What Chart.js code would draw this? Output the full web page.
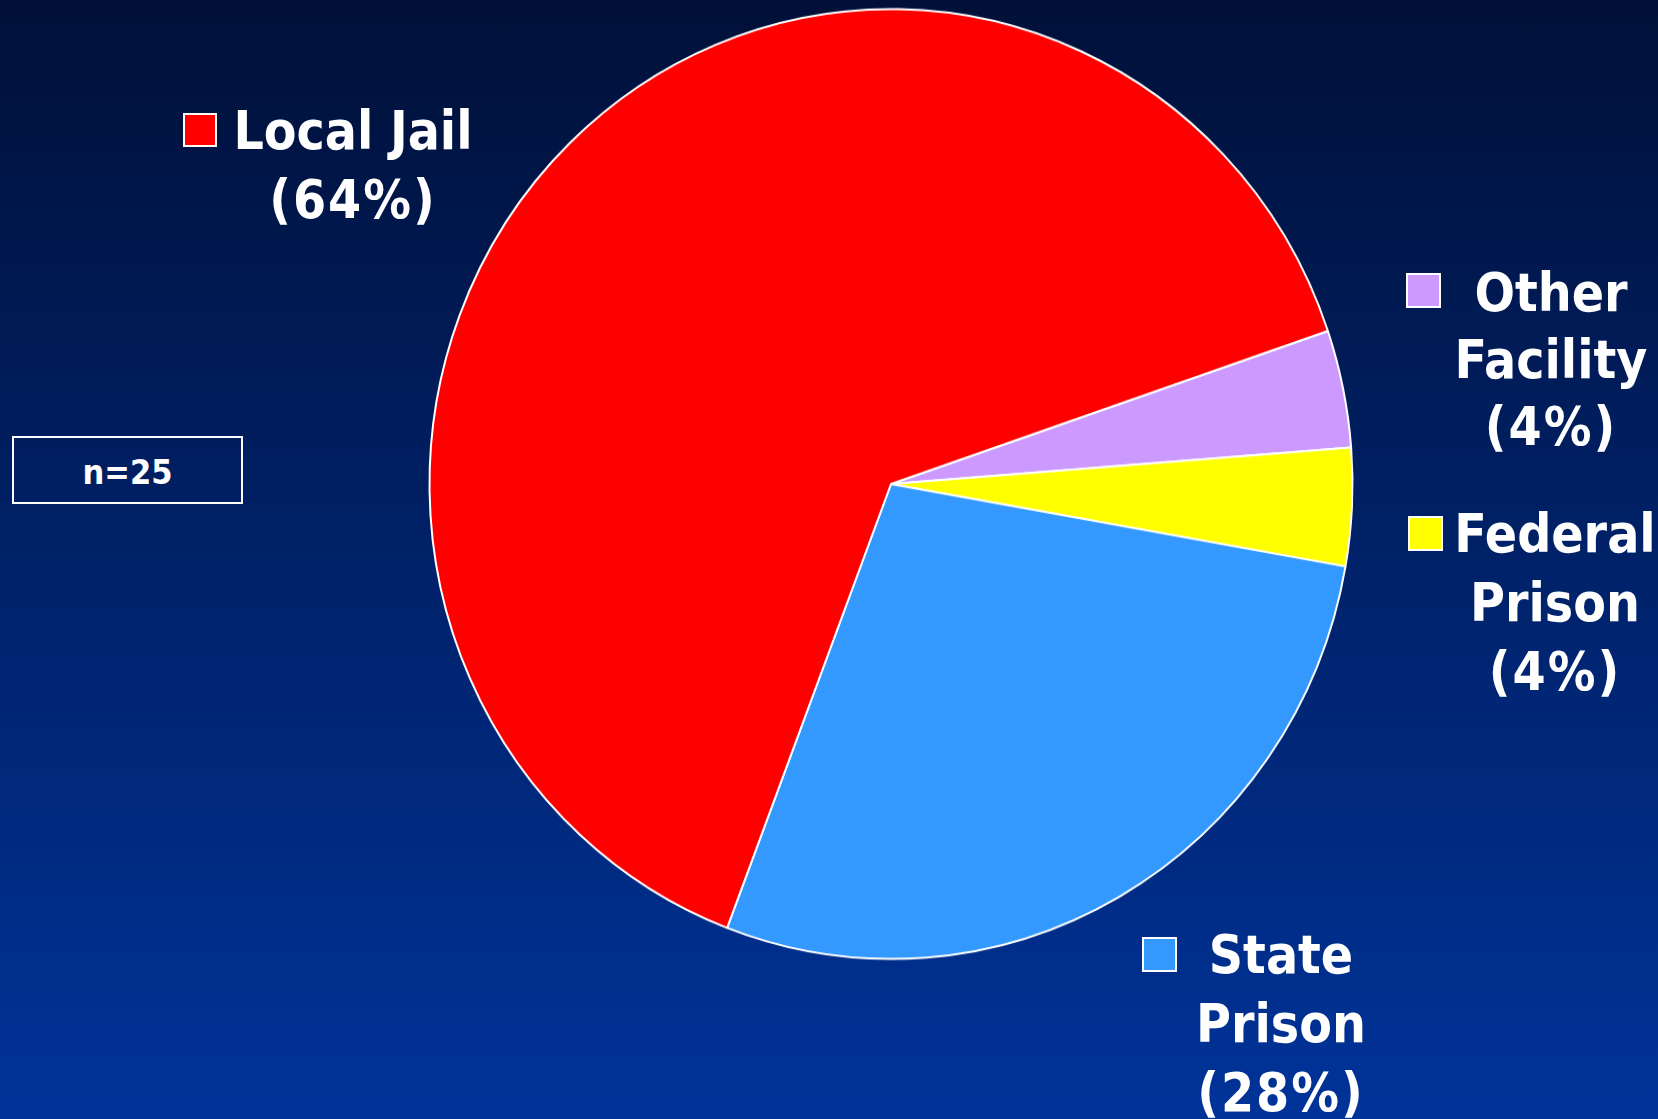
<!DOCTYPE html>
<html>
<head>
<meta charset="utf-8">
<script src="https://cdn.jsdelivr.net/npm/chart.js@4"></script>
<style>
  html, body { margin: 0; padding: 0; }
  body {
    width: 1658px; height: 1119px; overflow: hidden; position: relative;
    background: linear-gradient(to bottom, #001038 0%, #003399 100%);
    font-family: "DejaVu Sans Condensed", "DejaVu Sans", sans-serif;
    font-stretch: condensed;
  }
  #pieWrap {
    position: absolute; left: 411px; top: 4px; width: 960px; height: 960px;
    transform: scaleY(1.029); transform-origin: 50% 50%;
  }
  .line {
    position: absolute; width: 400px; text-align: center; color: #fff;
    font-weight: bold; font-size: 53px; line-height: 69px; height: 69px; white-space: nowrap;
  }
  .pct { letter-spacing: 2px; }
  .sq { position: absolute; box-sizing: border-box; border: 2px solid #fff; }
  #nbox {
    position: absolute; left: 12px; top: 436px; width: 231px; height: 68px;
    box-sizing: border-box; border: 2px solid #fff; color: #fff; text-align: center;
    font-weight: bold; font-size: 34px; line-height: 64px;
  }
  #nbox span { position: relative; top: 2px; }
</style>
</head>
<body>
<div id="pieWrap"><canvas id="pie"></canvas></div>
<div id="nbox"><span id="ntext"></span></div>
<script>
// ---- data ----
const categories = ["Other Facility", "Federal Prison", "State Prison", "Local Jail"];
const counts = [1, 1, 7, 16];               // n = 25
const percentLabels = ["(4%)", "(4%)", "(28%)", "(64%)"];
const labelLines = [["Other", "Facility"], ["Federal", "Prison"], ["State", "Prison"], ["Local Jail"]];
const sliceColors = ["#cc99ff", "#ffff00", "#3399ff", "#ff0000"];
const sampleNote = "n=25";

// ---- label layout (positions only) ----
const labelLayout = [
  { sq: [1406, 273, 35], cx: 1551, base: 311, lh: 67 },
  { sq: [1408, 516, 35], cx: 1555, base: 552, lh: 69 },
  { sq: [1142, 937, 35], cx: 1281, base: 973, lh: 69 },
  { sq: [183, 113, 34], cx: 353, base: 149, lh: 69 }
];

document.getElementById('ntext').textContent = sampleNote;

categories.forEach((cat, i) => {
  const L = labelLayout[i];
  const sq = document.createElement('div');
  sq.className = 'sq';
  sq.style.left = L.sq[0] + 'px';
  sq.style.top = L.sq[1] + 'px';
  sq.style.width = L.sq[2] + 'px';
  sq.style.height = L.sq[2] + 'px';
  sq.style.background = sliceColors[i];
  document.body.appendChild(sq);
  const lines = labelLines[i].concat([percentLabels[i]]);
  lines.forEach((t, k) => {
    const d = document.createElement('div');
    d.className = 'line' + (k === lines.length - 1 ? ' pct' : '');
    d.textContent = t;
    d.style.left = (L.cx - 200) + 'px';
    d.style.top = (L.base + k * L.lh - 52.8) + 'px';
    document.body.appendChild(d);
  });
});

new Chart(document.getElementById('pie'), {
  type: 'pie',
  data: {
    labels: categories,
    datasets: [{
      data: counts,
      backgroundColor: sliceColors,
      borderColor: '#ffffff',
      borderWidth: 2
    }]
  },
  options: {
    responsive: true,
    maintainAspectRatio: false,
    animation: false,
    rotation: 71.2,
    radius: 461.5,
    layout: { padding: 0 },
    plugins: { legend: { display: false }, tooltip: { enabled: false } }
  }
});
</script>
</body>
</html>
